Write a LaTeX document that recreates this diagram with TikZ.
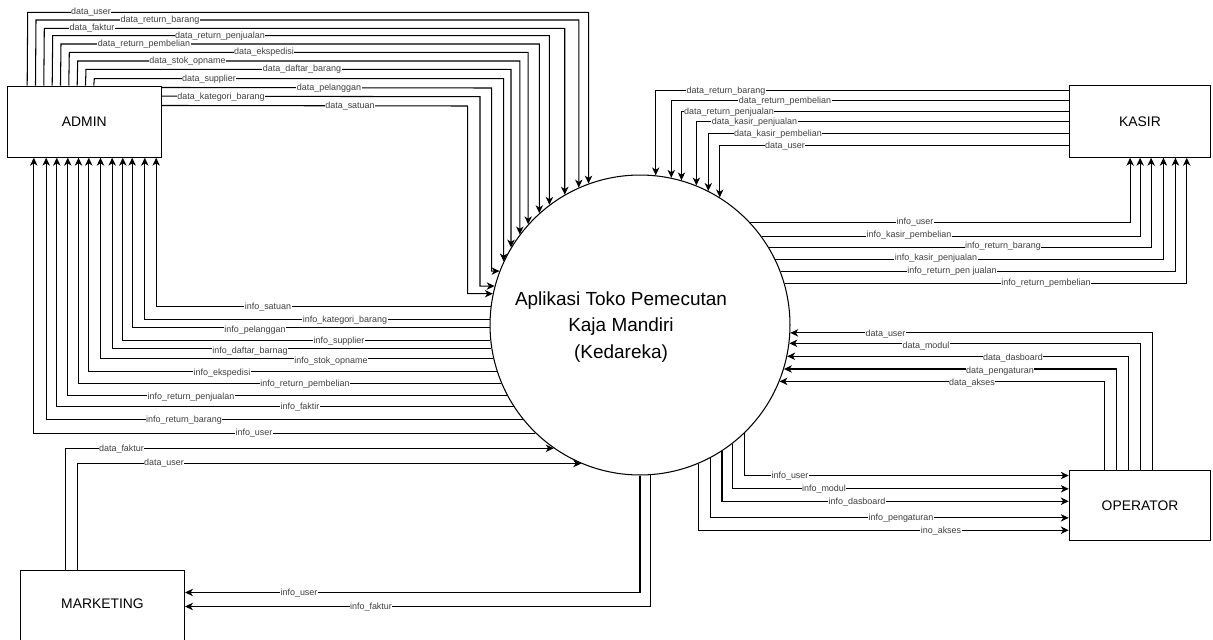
\documentclass[tikz,border=0pt]{standalone}
\usepackage{fontspec}
\setmainfont{Liberation Sans}
\usetikzlibrary{arrows.meta,calc}

\tikzset{
  entity/.style={draw, line width=0.6pt, inner sep=0pt, font=\fontsize{7.9}{9}\selectfont},
  flow/.style={line width=0.6pt, -{Stealth[length=4.5pt,width=4.2pt,inset=1.3pt]}},
  lbl/.style={fill=white, inner sep=0.3pt, text=black!75, font=\fontsize{5.1}{5.5}\selectfont},
}

\begin{document}
\begin{tikzpicture}[x=0.02cm,y=-0.02cm]
  \useasboundingbox (0,0) rectangle (1213,639);

  % The process in the middle
  \node[draw, circle, line width=0.6pt, minimum size=6cm, inner sep=0pt] (app) at (640,325) {};
  \node[align=center, font=\fontsize{10.8}{15.3}\selectfont] (apptitle) at (621,327)
    {Aplikasi Toko Pemecutan\\Kaja Mandiri\\(Kedareka)};

  % External entities
  \node[entity, minimum width=3.08cm, minimum height=1.42cm] (admin) at (84.3,121.7) {ADMIN};
  \node[entity, minimum width=2.83cm, minimum height=1.43cm] (kasir) at (1140,121.5) {KASIR};
  \node[entity, minimum width=2.83cm, minimum height=1.41cm] (operator) at (1140,505.3) {OPERATOR};
  % its bottom edge runs off the page
  \node[entity, minimum width=3.28cm, minimum height=1.48cm] (marketing) at (102.5,607.5) {};
  \node[font=\fontsize{7.9}{9}\selectfont] (marketingtxt) at (102.5,604) {MARKETING};

  % ADMIN -> app, leaving from the top of the box
  \foreach \xs/\yl/\xv/\lx/\txt [count=\i] in {
      27.7/12.3/587.3/91/data\_user,
      36/20/577.3/160/data\_return\_barang,
      44.3/28.3/563.3/92/data\_faktur,
      52.7/35.7/549.3/220/data\_return\_penjualan,
      61/44/539.3/144/data\_return\_pembelian,
      69.3/52.3/527.3/264/data\_ekspedisi,
      77.7/61/519.3/187.5/data\_stok\_opname,
      86/69.3/511/302/data\_daftar\_barang,
      94.3/78.7/503.3/209/data\_supplier}{
    \pgfmathsetmacro\ang{acos((\xv-640)/150)}
    \draw[flow] ($(admin.north west)+(\xs-7.3,0)$) -- (\xs,\yl) -| (app.\ang);
    \node[lbl] (ad\i) at (\lx,\yl) {\txt};
  }
  % ADMIN -> app, leaving from the right side
  \foreach \yl/\xv/\yt/\lx/\txt [count=\i] in {
      88/491.7/272.7/329/data\_pelanggan,
      96.7/480/286.7/221/data\_kategori\_barang,
      106/467.7/295/350/data\_satuan}{
    \pgfmathsetmacro\ang{180-asin((325-\yt)/150)}
    \draw[flow] ($(admin.north east)+(0,\yl-86.2)$) -- (\xv,\yl) |- (app.\ang);
    \node[lbl] (ar\i) at (\lx,\yl) {\txt};
  }
  % app -> ADMIN
  \foreach \xv/\yl/\lx/\txt [count=\i] in {
      156.7/307.3/268/info\_satuan,
      145.3/320/345/info\_kategori\_barang,
      132.7/330/255/info\_pelanggan,
      123.3/340.7/339/info\_supplier,
      112.7/351/250/info\_daftar\_barnag,
      101/360.7/331/info\_stok\_opname,
      89.3/373.3/222/info\_ekspedisi,
      79/384/305/info\_return\_pembelian,
      68.3/396.7/191/info\_return\_penjualan,
      57.3/406.7/300/info\_faktir,
      46.7/420/184/info\_return\_barang,
      34.3/433.3/254/info\_user}{
    \pgfmathsetmacro\ang{180-asin((325-\yl)/150)}
    \draw[flow] (app.\ang) -| ($(admin.south west)+(\xv-7.3,0)$);
    \node[lbl] (ai\i) at (\lx,\yl) {\txt};
  }

  % KASIR -> app
  \foreach \yl/\xv/\lx/\txt [count=\i] in {
      90.7/654.3/726/data\_return\_barang,
      100.7/669/785/data\_return\_pembelian,
      111.7/680/729/data\_return\_penjualan,
      122.3/694.3/754.5/data\_kasir\_penjualan,
      134/706/778/data\_kasir\_pembelian,
      146/717.7/785/data\_user}{
    \pgfmathsetmacro\ang{acos((\xv-640)/150)}
    \draw[flow] ($(kasir.north west)+(0,\yl-85.7)$) -| (app.\ang);
    \node[lbl] (kd\i) at (\lx,\yl) {\txt};
  }
  % app -> KASIR
  \foreach \yl/\xv/\lx/\txt [count=\i] in {
      221.7/1130.7/915/info\_user,
      235/1140.7/909/info\_kasir\_pembelian,
      246/1151.7/1003/info\_return\_barang,
      257.7/1164/936/info\_kasir\_penjualan,
      271/1176/952/info\_return\_pen jualan,
      283.3/1187.3/1046/info\_return\_pembelian}{
    \pgfmathsetmacro\ang{asin((325-\yl)/150)}
    \draw[flow] (app.\ang) -| ($(kasir.south west)+(\xv-1069.3,0)$);
    \node[lbl] (ki\i) at (\lx,\yl) {\txt};
  }

  % OPERATOR -> app
  \foreach \yl/\xv/\lx/\txt [count=\i] in {
      334.3/1152.7/885.5/data\_user,
      345.7/1140.7/926/data\_modul,
      357.7/1129/1013/data\_dasboard,
      371/1116.7/1000/data\_pengaturan,
      383.3/1105/972/data\_akses}{
    \pgfmathsetmacro\ang{asin((325-\yl)/150)}
    \draw[flow] ($(operator.north west)+(\xv-1069.3,0)$) |- (app.\ang);
    \node[lbl] (od\i) at (\lx,\yl) {\txt};
  }
  % app -> OPERATOR
  \foreach \xv/\yl/\lx/\txt [count=\i] in {
      743/476/790/info\_user,
      730.3/489.3/824/info\_modul,
      720.1/501.7/857/info\_dasboard,
      708.9/518.3/901/info\_pengaturan,
      696.3/530.7/941/ino\_akses}{
    \pgfmathsetmacro\ang{-acos((\xv-640)/150)}
    \draw[flow] (app.\ang) |- ($(operator.north west)+(0,\yl-470)$);
    \node[lbl] (oi\i) at (\lx,\yl) {\txt};
  }

  % MARKETING -> app
  \foreach \xs/\yl/\lx/\txt [count=\i] in {
      66.3/449.3/121.5/data\_faktur,
      78/463.3/164/data\_user}{
    \pgfmathsetmacro\ang{180-asin((325-\yl)/150)}
    \draw[flow] ($(marketing.north west)+(\xs-20.5,0)$) |- (app.\ang);
    \node[lbl] (md\i) at (\lx,\yl) {\txt};
  }
  % app -> MARKETING
  \foreach \xv/\yl/\lx/\txt [count=\i] in {
      638.3/593/299/info\_user,
      649.6/607/371/info\_faktur}{
    \pgfmathsetmacro\ang{-acos((\xv-640)/150)}
    \draw[flow] (app.\ang) |- ($(marketing.north east)+(0,\yl-570.5)$);
    \node[lbl] (mi\i) at (\lx,\yl) {\txt};
  }
\end{tikzpicture}
\end{document}
